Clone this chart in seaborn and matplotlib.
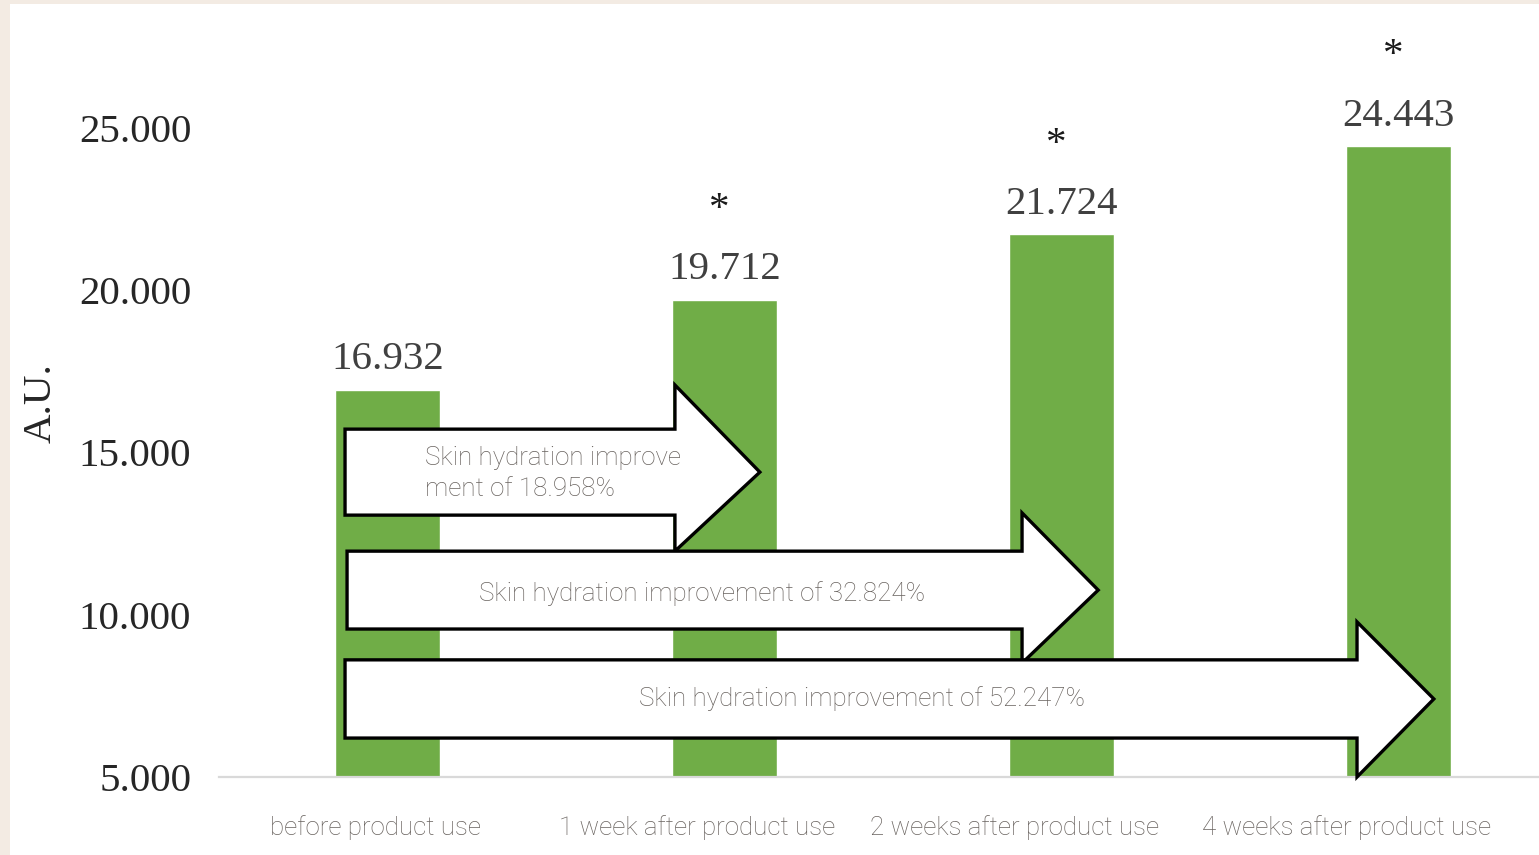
import matplotlib
matplotlib.use("Agg")
import matplotlib.pyplot as plt
from matplotlib.patches import Polygon, Rectangle
import seaborn as sns
import pandas as pd

# --- data -------------------------------------------------------------
categories = ["before product use", "1 week after product use",
              "2 weeks after product use", "4 weeks after product use"]
hydration = [16.932, 19.712, 21.724, 24.443]
significance = ["", "*", "*", "*"]
improvement_texts = ["Skin hydration improve\nment of 18.958%",
                     "Skin hydration improvement of 32.824%",
                     "Skin hydration improvement of 52.247%"]
y_ticks = [5, 10, 15, 20, 25]

df = pd.DataFrame({"period": categories, "value": hydration})

# --- style ------------------------------------------------------------
sns.set_theme(style="white")
plt.rcParams["font.family"] = ["Liberation Serif", "DejaVu Serif"]

GREEN = "#70ad47"
GREY_TEXT = "#68625e"
SERIF = ["Liberation Serif", "DejaVu Serif"]
SANS = ["Roboto", "DejaVu Sans"]
NUM_SIZE = 29.5
SANS_SIZE = 18.7

W, H = 1539, 855
fig = plt.figure(figsize=(W / 100, H / 100), dpi=100, facecolor="#f3ebe3")
# white page inside the beige frame
fig.patches.append(Rectangle((10 / W, 0), 1 - 10 / W, 1 - 4 / H,
                             transform=fig.transFigure, facecolor="white",
                             edgecolor="none", zorder=-5))

ax = fig.add_axes([219 / W, (H - 777) / H, 1 - 219 / W, (777 - 128) / H])
ax.set_facecolor("none")

sns.barplot(data=df, x="period", y="value", color=GREEN, width=0.31,
            saturation=1, ax=ax, zorder=2)

ax.set_ylim(5, 25)
ax.set_xlim(-0.5, 3.417)
ax.set_yticks(y_ticks)
ax.set_yticklabels([f"{v:.3f}" for v in y_ticks], family=SERIF,
                   fontsize=NUM_SIZE, color="#262626")
ax.tick_params(axis="y", length=0, pad=20)

# category labels sit a little left of their bars
label_shift = [-0.037, -0.082, -0.138, -0.153]
ax.set_xticks([i + s for i, s in enumerate(label_shift)])
ax.set_xticklabels(categories, family=SANS, fontweight="light",
                   fontsize=SANS_SIZE, color=GREY_TEXT)
ax.tick_params(axis="x", length=0, pad=27.5)
ax.set_xlabel("")
ax.set_ylabel("")

for side in ["left", "right", "top"]:
    ax.spines[side].set_visible(False)
ax.spines["bottom"].set_color("#d9d9d9")
ax.spines["bottom"].set_linewidth(1.6)

fig.text(41 / W, (H - 403) / H, "A.U.", rotation=90, family=SERIF,
         fontsize=NUM_SIZE, color="#262626", ha="center", va="center")

# value labels and significance markers
for i, (v, mark) in enumerate(zip(hydration, significance)):
    ax.annotate(f"{v:.3f}", (i, v), xytext=(0, 21.5), textcoords="offset points",
                ha="center", va="center", family=SERIF, fontsize=NUM_SIZE,
                color="#404040")
    if mark:
        ax.annotate(mark, (i, v), xytext=(-4, 65), textcoords="offset points",
                    ha="center", va="center", family=SERIF, fontsize=NUM_SIZE,
                    color="#1a1a1a")

# block arrows: (x_start, x_neck, x_tip, shaft_lo, shaft_hi, head_lo, head_hi)
arrows = [
    (-0.126, 0.853, 1.105, 13.07, 15.72, 11.96, 17.08),
    (-0.120, 1.883, 2.109, 9.56, 11.96, 8.51, 13.14),
    (-0.126, 2.877, 3.105, 6.20, 8.61, 5.00, 9.78),
]
for k, (x0, xn, xt, s0, s1, h0, h1) in enumerate(arrows):
    ymid = (s0 + s1) / 2
    pts = [(x0, s0), (xn, s0), (xn, h0), (xt, ymid),
           (xn, h1), (xn, s1), (x0, s1)]
    ax.add_patch(Polygon(pts, closed=True, facecolor="white",
                         edgecolor="black", linewidth=2.4, joinstyle="miter",
                         zorder=3 + k, clip_on=False))

text_pos = [(0.111, 14.34, "left"), (0.933, 10.64, "center"),
            (1.408, 7.43, "center")]
for k, ((tx, ty, ha), txt) in enumerate(zip(text_pos, improvement_texts)):
    ax.text(tx, ty, txt, ha=ha, va="center", family=SANS, fontweight="light",
            fontsize=SANS_SIZE, color=GREY_TEXT, linespacing=1.36, zorder=10)

fig.savefig("out.png", dpi=100, facecolor=fig.get_facecolor())
